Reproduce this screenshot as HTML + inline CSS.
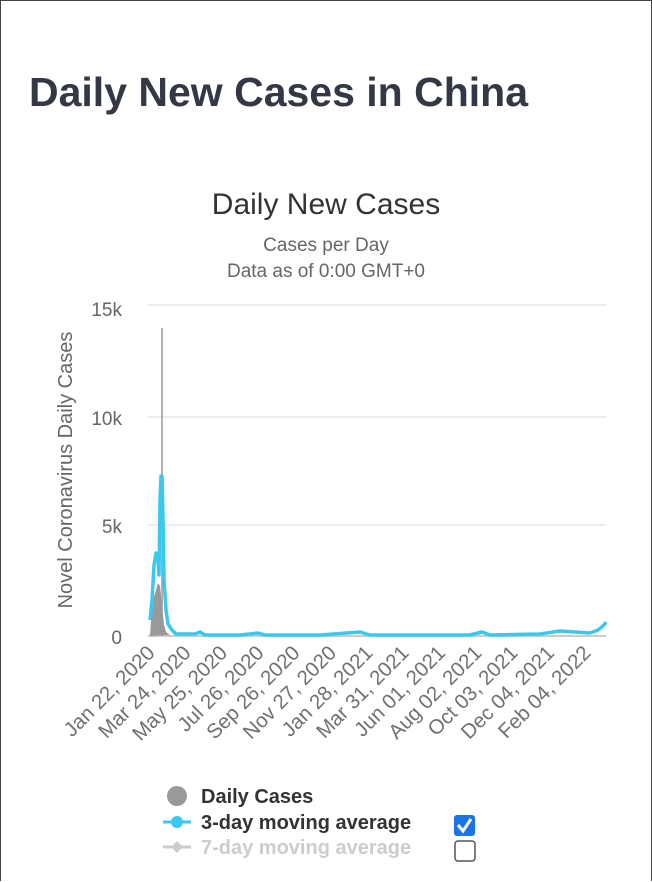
<!DOCTYPE html>
<html><head><style>
body{margin:0;background:#fff;}
.page{position:relative;width:650px;height:880px;border:1px solid #444;border-bottom:none;overflow:hidden;font-family:"Liberation Sans",sans-serif;}
h1{position:absolute;left:28px;top:68px;margin:0;font-size:41px;font-weight:bold;color:#333844;letter-spacing:0px;}
</style></head><body><div class="page">
<h1>Daily New Cases in China</h1>
<svg width="652" height="882" style="position:absolute;left:-1px;top:-1px" font-family="Liberation Sans, sans-serif">
<text x="326" y="214" text-anchor="middle" font-size="30" fill="#333">Daily New Cases</text>
<text x="326" y="251" text-anchor="middle" font-size="19" fill="#666">Cases per Day</text>
<text x="326" y="277" text-anchor="middle" font-size="19" fill="#666">Data as of 0:00 GMT+0</text>
<g stroke="#e6e6e6" stroke-width="1.5">
<line x1="148" y1="305" x2="606" y2="305"/><line x1="148" y1="417" x2="606" y2="417"/><line x1="148" y1="525" x2="606" y2="525"/>
</g>
<line x1="148" y1="636" x2="606" y2="636" stroke="#ccc" stroke-width="2"/>
<g font-size="19" fill="#666" text-anchor="end">
<text x="122" y="316">15k</text><text x="122" y="425">10k</text><text x="122" y="533">5k</text><text x="122" y="644">0</text>
</g>
<text transform="translate(72,470) rotate(-90)" text-anchor="middle" font-size="20" fill="#666">Novel Coronavirus Daily Cases</text>
<path d="M150,636 L151,620 L153,600 L156,590 L158,583 L160,586 L162,605 L164,625 L166,632 L170,635 L150,636Z" fill="#999"/>
<line x1="162" y1="328" x2="162" y2="636" stroke="#999" stroke-width="1.5"/>
<path d="M150,620 L152,600 L154,565 L156,553 L158,560 L159,575 L160,500 L161,476 L162,476 L163,520 L164,580 L166,610 L168,624 L172,630 L176,634 L185,634 L195,634 L200,632 L205,635 L240,635 L258,633 L265,635 L320,635 L360,632 L370,635 L470,635 L482,632 L490,635 L540,634 L560,631 L575,632 L590,633 L598,630 L604,625 L606,622" fill="none" stroke="#3cc8ee" stroke-width="3.5" stroke-linejoin="round"/>
<g font-size="20.5" fill="#707070" text-anchor="end">
<text transform="translate(156,654) rotate(-45)">Jan 22, 2020</text>
<text transform="translate(192,654) rotate(-45)">Mar 24, 2020</text>
<text transform="translate(228.5,654) rotate(-45)">May 25, 2020</text>
<text transform="translate(265,654) rotate(-45)">Jul 26, 2020</text>
<text transform="translate(301,654) rotate(-45)">Sep 26, 2020</text>
<text transform="translate(337.5,654) rotate(-45)">Nov 27, 2020</text>
<text transform="translate(374,654) rotate(-45)">Jan 28, 2021</text>
<text transform="translate(410,654) rotate(-45)">Mar 31, 2021</text>
<text transform="translate(446.5,654) rotate(-45)">Jun 01, 2021</text>
<text transform="translate(483,654) rotate(-45)">Aug 02, 2021</text>
<text transform="translate(519,654) rotate(-45)">Oct 03, 2021</text>
<text transform="translate(555.5,654) rotate(-45)">Dec 04, 2021</text>
<text transform="translate(592,654) rotate(-45)">Feb 04, 2022</text>
</g>
<circle cx="177" cy="796" r="10" fill="#999"/>
<text x="201" y="803" font-size="20" font-weight="bold" fill="#333">Daily Cases</text>
<line x1="163" y1="822" x2="191" y2="822" stroke="#3cc8ee" stroke-width="3"/>
<circle cx="177" cy="822" r="6" fill="#3cc8ee"/>
<text x="201" y="829" font-size="20" font-weight="bold" fill="#333">3-day moving average</text>
<line x1="163" y1="847" x2="191" y2="847" stroke="#ccc" stroke-width="3"/>
<path d="M177,841 L183,847 L177,853 L171,847Z" fill="#ccc"/>
<text x="201" y="854" font-size="20" font-weight="bold" fill="#ccc">7-day moving average</text>
<rect x="454" y="815" width="21" height="21" rx="3" fill="#1a73e8"/>
<path d="M458,825 L463,831 L471,819" fill="none" stroke="#fff" stroke-width="3"/>
<rect x="455" y="841" width="20" height="20" rx="3" fill="#fff" stroke="#555" stroke-width="1.5"/>
</svg>
</div></body></html>
